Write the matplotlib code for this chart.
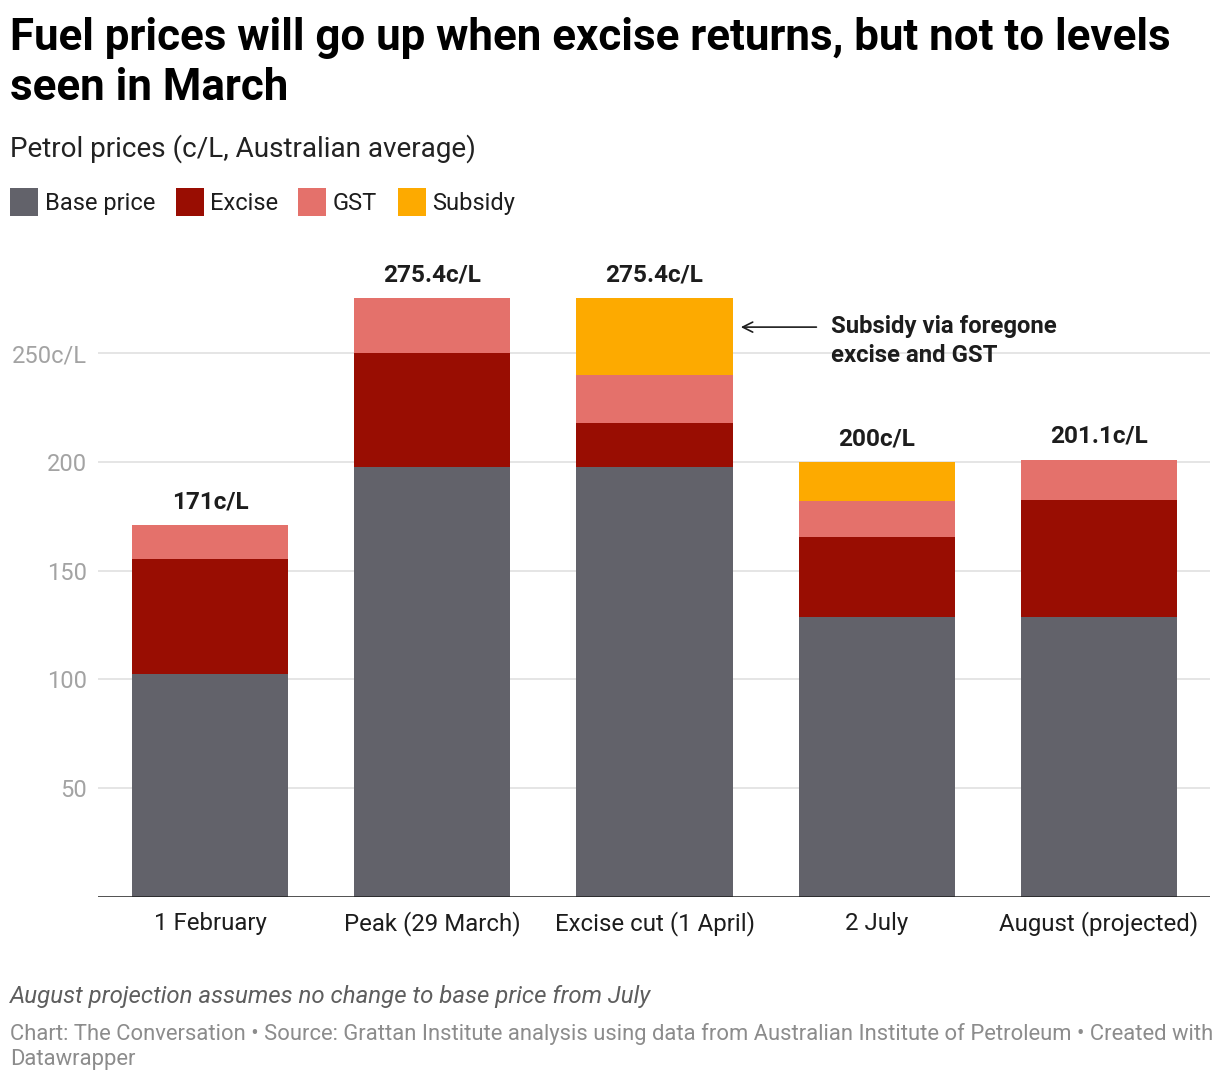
import matplotlib
matplotlib.use("Agg")
import matplotlib.pyplot as plt
from matplotlib.patches import Rectangle
import numpy as np

plt.rcParams['font.family'] = ['Roboto', 'DejaVu Sans']

categories = ["1 February", "Peak (29 March)", "Excise cut (1 April)", "2 July", "August (projected)"]
base_price = [102.6, 197.6, 197.6, 128.8, 128.8]
excise = [52.8, 52.4, 20.1, 36.7, 53.6]
gst = [15.6, 25.4, 22.1, 16.5, 18.7]
subsidy = [0.0, 0.0, 35.6, 18.0, 0.0]
total_labels = ["171c/L", "275.4c/L", "275.4c/L", "200c/L", "201.1c/L"]
series_names = ["Base price", "Excise", "GST", "Subsidy"]
colors = ["#62626a", "#990d02", "#e4716b", "#fdaa00"]
yticks = [50, 100, 150, 200, 250]
ytick_labels = ["50", "100", "150", "200", "250c/L"]

W, H = 1220, 1082
fig = plt.figure(figsize=(W / 100, H / 100), dpi=100)

def fx(px):
    return px / W

def fy(py):
    return 1 - py / H

px_per_unit = 108.7 / 50
ytop = 290
bottom_px = 896.7
top_px = bottom_px - ytop * px_per_unit
ax = fig.add_axes([fx(98), fy(bottom_px), fx(1210) - fx(98), fy(top_px) - fy(bottom_px)])

x = np.arange(len(categories))
series = [base_price, excise, gst, subsidy]
bottom = np.zeros(len(categories))
for vals, c in zip(series, colors):
    v = np.array(vals)
    ax.bar(x, v, bottom=bottom, width=0.702, color=c, linewidth=0, zorder=2)
    bottom += v

for xi, tot, lab in zip(x, bottom, total_labels):
    ax.annotate(lab, (xi, tot), xytext=(0, 12), textcoords='offset points',
                ha='center', va='baseline', fontsize=17.6, fontweight='bold', color='#1d1d1d')

ax.set_xlim(-0.504, 4.4995)
ax.set_ylim(0, ytop)
ax.set_yticks(yticks)
ax.set_yticklabels(ytick_labels)
ax.tick_params(axis='y', length=0, pad=8, labelsize=17, labelcolor='#a3a3a3')
ax.set_xticks(x)
ax.set_xticklabels(categories)
ax.tick_params(axis='x', length=0, pad=24, labelsize=17.3, labelcolor='#1d1d1d')
for lab in ax.get_xticklabels():
    lab.set_verticalalignment('baseline')
for s in ['top', 'right', 'left', 'bottom']:
    ax.spines[s].set_visible(False)
ax.grid(axis='y', color='#e3e3e3', linewidth=1.3, zorder=0)
ax.set_axisbelow(True)
ax.axhline(0, color='#1d1d1d', linewidth=1.8, zorder=3)

# annotation arrow
ax.annotate("", xy=(2.0 + 0.351 + 0.025, 262.0), xytext=(2.0 + 0.351 + 0.39, 262.0),
            arrowprops=dict(arrowstyle='->', color='#1d1d1d', lw=1.2, mutation_scale=18))
fig.text(fx(831), fy(333.5), "Subsidy via foregone", fontsize=17.2, fontweight='bold',
         color='#1d1d1d', ha='left', va='baseline')
fig.text(fx(831), fy(361.5), "excise and GST", fontsize=17.2, fontweight='bold',
         color='#1d1d1d', ha='left', va='baseline')

# titles
fig.text(fx(10), fy(50), "Fuel prices will go up when excise returns, but not to levels",
         fontsize=31.6, fontweight='bold', color='#000000', ha='left', va='baseline')
fig.text(fx(10), fy(100), "seen in March",
         fontsize=31.6, fontweight='bold', color='#000000', ha='left', va='baseline')
fig.text(fx(10), fy(156.7), "Petrol prices (c/L, Australian average)",
         fontsize=20.1, color='#222222', ha='left', va='baseline')

# legend
leg_sq = [10, 176, 298, 398]
leg_tx = [45, 210, 333, 432.5]
for name, c, sx, tx in zip(series_names, colors, leg_sq, leg_tx):
    fig.patches.append(Rectangle((fx(sx), fy(215.7)), fx(27.5), fy(188) - fy(215.7),
                                 transform=fig.transFigure, color=c, linewidth=0))
    fig.text(fx(tx), fy(209.5), name, fontsize=17, color='#1d1d1d', ha='left', va='baseline')

# footer
fig.text(fx(10), fy(1003), "August projection assumes no change to base price from July",
         fontsize=17.3, style='italic', color='#5e5e5e', ha='left', va='baseline')
fig.text(fx(10), fy(1040),
         "Chart: The Conversation \u2022 Source: Grattan Institute analysis using data from Australian Institute of Petroleum \u2022 Created with",
         fontsize=15.8, color='#8c8c8c', ha='left', va='baseline')
fig.text(fx(10), fy(1065), "Datawrapper",
         fontsize=15.8, color='#8c8c8c', ha='left', va='baseline')

fig.savefig("out.png", dpi=100, facecolor='white')
